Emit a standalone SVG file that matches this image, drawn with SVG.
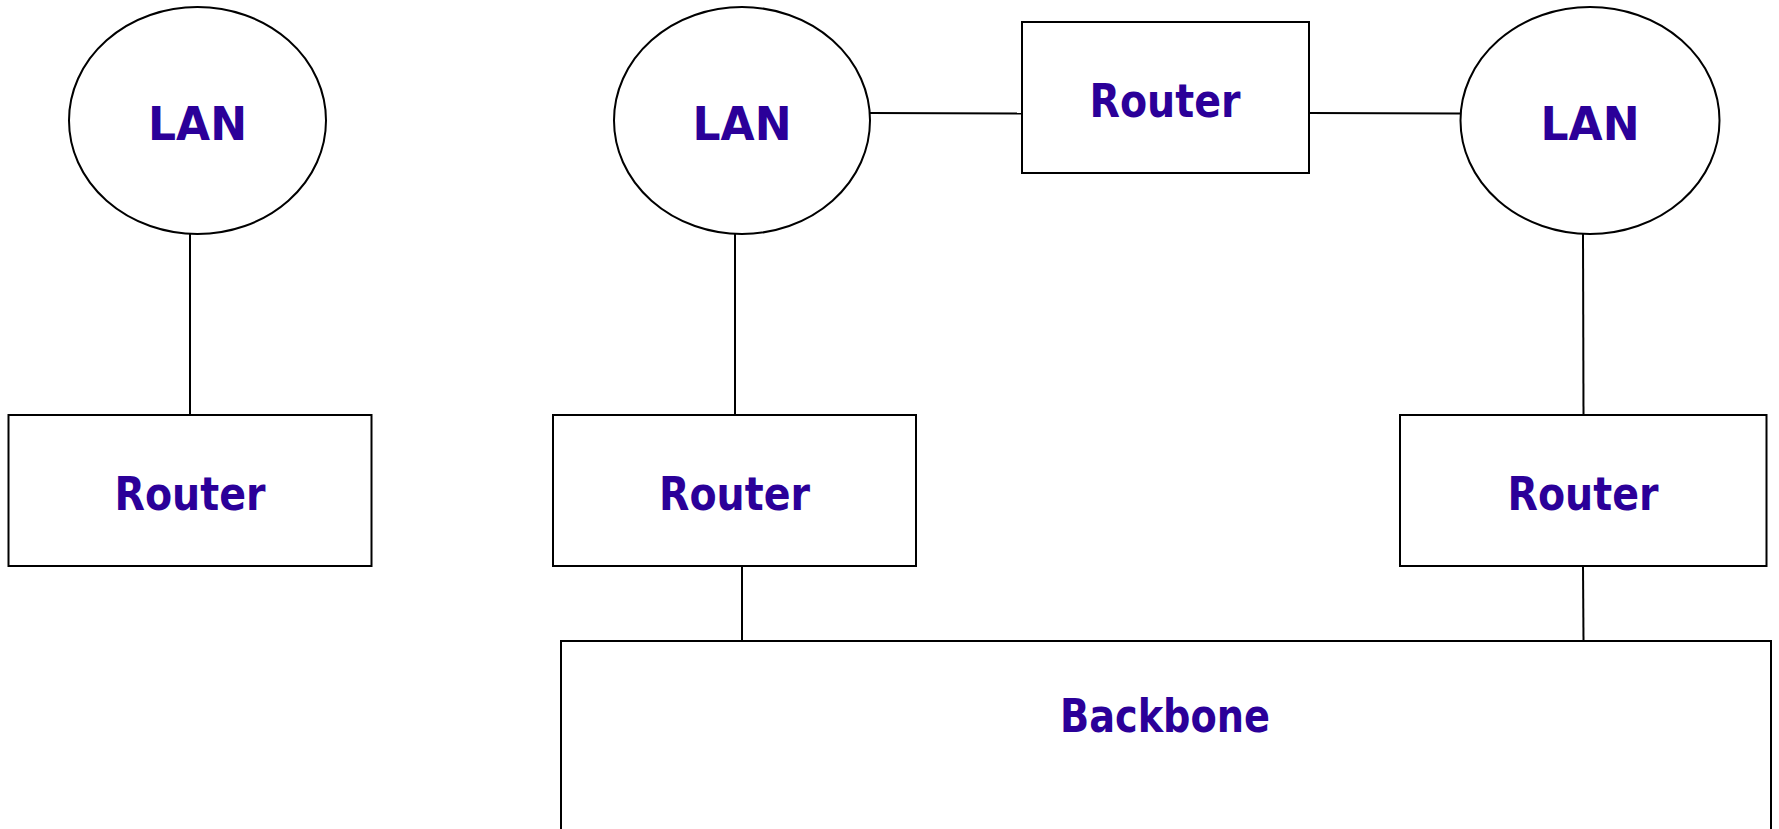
<svg xmlns="http://www.w3.org/2000/svg" width="1779" height="829" viewBox="0 0 1779 829">
<style>
.shape{fill:#ffffff;stroke:#000000;stroke-width:2}
.conn{stroke:#000000;stroke-width:2;fill:none}
.lbl{font-family:"Comic Sans MS","DejaVu Sans",sans-serif;font-weight:bold;font-size:46px;fill:#2b0099;text-anchor:middle}
</style>
<rect x="0" y="0" width="1779" height="829" fill="#ffffff"/>
<g id="connectors">
<line class="conn" x1="190" y1="234" x2="190" y2="415"/>
<line class="conn" x1="735" y1="234" x2="735" y2="415"/>
<line class="conn" x1="742" y1="566" x2="742" y2="641"/>
<line class="conn" x1="870" y1="113" x2="1022" y2="113.5"/>
<line class="conn" x1="1309" y1="113" x2="1460" y2="113.5"/>
<line class="conn" x1="1583" y1="234" x2="1583.5" y2="415"/>
<line class="conn" x1="1583" y1="566" x2="1583.5" y2="641"/>
</g>
<g id="lan1">
<ellipse class="shape" cx="197.5" cy="120.5" rx="128.5" ry="113.5"/>
<text class="lbl" x="197.5" y="140" textLength="99" lengthAdjust="spacingAndGlyphs">LAN</text>
</g>
<g id="lan2">
<ellipse class="shape" cx="742" cy="120.5" rx="128" ry="113.5"/>
<text class="lbl" x="742" y="140" textLength="99" lengthAdjust="spacingAndGlyphs">LAN</text>
</g>
<g id="lan3">
<ellipse class="shape" cx="1590" cy="120.5" rx="129.5" ry="113.5"/>
<text class="lbl" x="1590" y="140" textLength="99" lengthAdjust="spacingAndGlyphs">LAN</text>
</g>
<g id="router1">
<rect class="shape" x="8.5" y="415" width="363" height="151"/>
<text class="lbl" x="190" y="510" textLength="151" lengthAdjust="spacingAndGlyphs">Router</text>
</g>
<g id="router2">
<rect class="shape" x="553" y="415" width="363" height="151"/>
<text class="lbl" x="734.5" y="510" textLength="151" lengthAdjust="spacingAndGlyphs">Router</text>
</g>
<g id="router3">
<rect class="shape" x="1400" y="415" width="366.5" height="151"/>
<text class="lbl" x="1583" y="510" textLength="151" lengthAdjust="spacingAndGlyphs">Router</text>
</g>
<g id="router-top">
<rect class="shape" x="1022" y="22" width="287" height="151"/>
<text class="lbl" x="1165" y="117" textLength="151" lengthAdjust="spacingAndGlyphs">Router</text>
</g>
<g id="backbone">
<rect class="shape" x="561" y="641" width="1210" height="190"/>
<text class="lbl" x="1165" y="732" textLength="210" lengthAdjust="spacingAndGlyphs">Backbone</text>
</g>
</svg>
